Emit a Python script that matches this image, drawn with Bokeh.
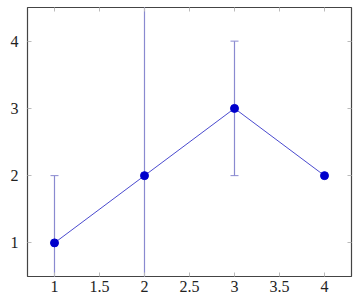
from bokeh.plotting import figure
from bokeh.models import ColumnDataSource, Whisker, LinearAxis, FixedTicker, Range1d
from bokeh.embed import file_html
from bokeh.resources import INLINE

x = [1, 2, 3, 4]
y = [1, 2, 3, 2]
err = [1, 3, 1, 0]
xticks = [1, 1.5, 2, 2.5, 3, 3.5, 4]
yticks = [1, 2, 3, 4]

lower = [v - e for v, e in zip(y, err)]
upper = [v + e for v, e in zip(y, err)]
src = ColumnDataSource(dict(x=x, y=y, lower=lower, upper=upper))
wsrc = ColumnDataSource(dict(x=[a for a, e in zip(x, err) if e > 0],
                             lower=[l for l, e in zip(lower, err) if e > 0],
                             upper=[u for u, e in zip(upper, err) if e > 0]))

p = figure(width=358, height=305, frame_width=324, frame_height=269,
           x_range=Range1d(0.7, 4.3), y_range=Range1d(0.5, 4.5),
           output_backend="svg", toolbar_location=None,
           min_border_left=27, min_border_right=7, min_border_top=7, min_border_bottom=29,
           background_fill_color="white", border_fill_color="white")
p.grid.visible = False
p.outline_line_color = "#444444"
p.outline_line_width = 1.2

font = "Liberation Serif"
for ax in (p.xaxis[0], p.yaxis[0]):
    ax.axis_line_color = None
    ax.major_tick_in = 4
    ax.major_tick_out = 0
    ax.minor_tick_line_color = None
    ax.major_tick_line_color = "#bbbbbb"
    ax.major_label_text_font = font
    ax.major_label_text_font_size = "16px"
    ax.major_label_text_color = "#222222"
p.xaxis[0].ticker = FixedTicker(ticks=xticks)
p.yaxis[0].ticker = FixedTicker(ticks=yticks)
p.xaxis[0].major_label_standoff = 4
p.yaxis[0].major_label_standoff = 9

for loc, tks in (("above", xticks), ("right", yticks)):
    ax = LinearAxis(ticker=FixedTicker(ticks=tks))
    ax.axis_line_color = None
    ax.major_tick_in = 4
    ax.major_tick_out = 0
    ax.minor_tick_line_color = None
    ax.major_tick_line_color = "#bbbbbb"
    ax.major_label_overrides = {t: "" for t in tks}
    ax.major_label_text_font_size = "1px"
    ax.major_label_standoff = 0
    p.add_layout(ax, loc)

w = Whisker(source=wsrc, base="x", lower="lower", upper="upper",
            line_color="#8a8ad0", line_width=1.2)
w.upper_head.size = 8
w.lower_head.size = 8
w.upper_head.line_color = "#8a8ad0"
w.lower_head.line_color = "#8a8ad0"
p.add_layout(w)

p.line("x", "y", source=src, line_color="#3535c8", line_width=0.9)
p.scatter("x", "y", source=src, size=8, fill_color="#0000cc", line_color="#0000cc")

open("out.html", "w").write(file_html(p, INLINE))
